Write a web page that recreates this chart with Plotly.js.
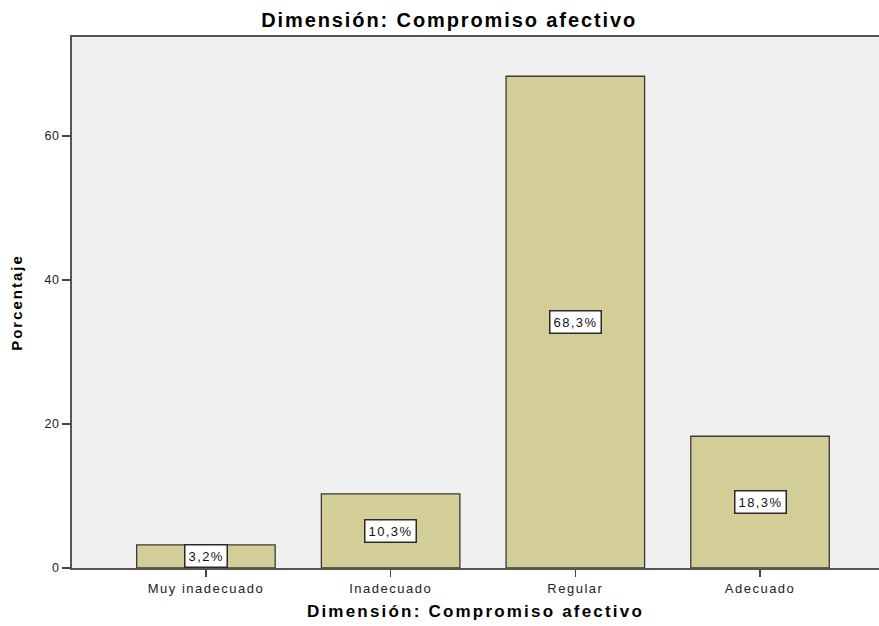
<!DOCTYPE html>
<html>
<head>
<meta charset="utf-8">
<script src="https://cdn.plot.ly/plotly-3.0.1.min.js"></script>
<style>
html,body{margin:0;padding:0;background:#fff;}
#chart{width:879px;height:626px;}
.gtitle{letter-spacing:1.9px;}
.xtitle{letter-spacing:2.2px;}
.ytitle{letter-spacing:2px;}
.xtick text{letter-spacing:1.5px;}
.ytick text{letter-spacing:0.5px;}
.annotation-text{letter-spacing:1.4px;}
</style>
</head>
<body>
<div id="chart"></div>
<script>
const categories = ["Muy inadecuado", "Inadecuado", "Regular", "Adecuado"];
const percentages = [3.2, 10.3, 68.3, 18.3];
const labels = percentages.map(v => v.toFixed(1).replace(".", ",") + "%");
const yTicks = [0, 20, 40, 60];

const FONT = "Liberation Sans, Arial, sans-serif";

const trace = {
  type: "bar",
  x: categories,
  y: percentages,
  width: 0.75,
  marker: {color: "#d3ce97", line: {color: "#3a3a3a", width: 1.3}},
  hoverinfo: "x+y"
};

const annotations = categories.map((c, i) => ({
  x: c, y: percentages[i] / 2, xref: "x", yref: "y",
  text: labels[i], showarrow: false,
  font: {family: FONT, size: 13, color: "#111"},
  bgcolor: "#ffffff", bordercolor: "#2a2a2a", borderwidth: 1.5, borderpad: 3
}));

const layout = {
  width: 879, height: 626,
  margin: {l: 72, r: 0, t: 37, b: 58},
  paper_bgcolor: "#ffffff",
  plot_bgcolor: "#f0f0f0",
  showlegend: false,
  title: {
    text: "Dimensión: Compromiso afectivo",
    font: {family: FONT, size: 20, color: "#000", weight: "bold"},
    x: 0.511, xref: "container", xanchor: "center", y: 0.968, yref: "container", yanchor: "middle"
  },
  xaxis: {
    type: "category",
    range: [-0.725, 3.644],
    showline: true, linecolor: "#555", linewidth: 2, mirror: true,
    ticks: "outside", ticklen: 7, tickwidth: 1.5, tickcolor: "#444",
    showgrid: false, zeroline: false,
    tickfont: {family: FONT, size: 13, color: "#222"},
    title: {text: "Dimensión: Compromiso afectivo", standoff: 11,
      font: {family: FONT, size: 17, color: "#000", weight: "bold"}}
  },
  yaxis: {
    range: [0, 73.75],
    tickvals: yTicks,
    showline: true, linecolor: "#555", linewidth: 2,
    ticks: "outside", ticklen: 8, tickwidth: 1.5, tickcolor: "#444",
    showgrid: false, zeroline: false,
    tickfont: {family: FONT, size: 12.5, color: "#222"},
    title: {text: "Porcentaje", standoff: 18,
      font: {family: FONT, size: 15, color: "#000", weight: "bold"}}
  },
  annotations: annotations
};

Plotly.newPlot("chart", [trace], layout, {displayModeBar: false, staticPlot: true});
</script>
</body>
</html>
